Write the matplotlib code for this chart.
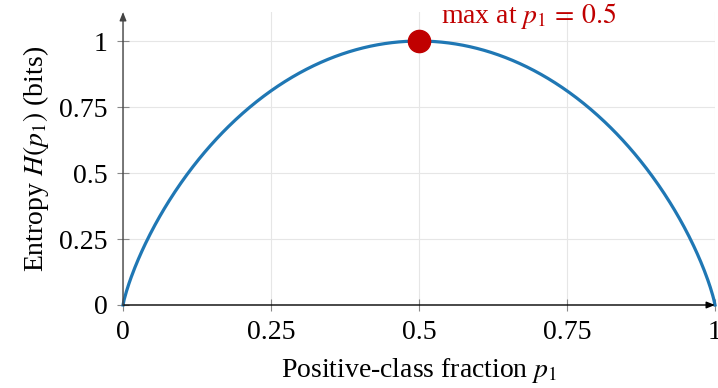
import matplotlib.pyplot as plt
import numpy as np

plt.rcParams['font.family'] = ['Liberation Serif', 'DejaVu Serif']
plt.rcParams['mathtext.fontset'] = 'stix'

# Entropie binaire en fonction de la fraction p1
p1 = np.linspace(0, 1, 501)
inner = p1[1:-1]
entropy = np.zeros_like(p1)
entropy[1:-1] = -inner * np.log2(inner) - (1 - inner) * np.log2(1 - inner)

p_max = 0.5
h_max = 1.0

x_ticks = [0, 0.25, 0.5, 0.75, 1]
x_tick_labels = ['0', '0.25', '0.5', '0.75', '1']
y_ticks = [0, 0.25, 0.5, 0.75, 1]
y_tick_labels = ['0', '0.25', '0.5', '0.75', '1']

fig = plt.figure(figsize=(7.18, 3.88), dpi=100)
ax = fig.add_axes([123 / 718, 83 / 388, 592 / 718, 293 / 388])

ax.plot(p1, entropy, color='#1f77b4', linewidth=2.3, zorder=3, clip_on=False)
ax.plot(p_max, h_max, 'o', color='#c00000', markersize=16, zorder=4, clip_on=False)
ax.text(0.538, 1.068, r'max at $p_1\,=\,0.5$', color='#c00000', fontsize=20,
        ha='left', va='baseline', clip_on=False)

ax.set_xlim(0, 1)
ax.set_ylim(0, 1.11)
ax.set_xticks(x_ticks, x_tick_labels)
ax.set_yticks(y_ticks, y_tick_labels)
ax.tick_params(direction='inout', length=8, width=0.8, color='#888888',
               labelsize=20, pad=7)
ax.grid(True, color='#e6e6e6', linewidth=0.8)
ax.set_axisbelow(True)

for s in ax.spines.values():
    s.set_visible(False)

# Axes avec flèches
ax.annotate('', xy=(1.0, 0), xytext=(0, 0), xycoords='data',
            arrowprops=dict(arrowstyle='-|>,head_length=0.5,head_width=0.2',
                            color='black', lw=1.0, shrinkA=0, shrinkB=0),
            annotation_clip=False)
ax.annotate('', xy=(0, 1.11), xytext=(0, 0), xycoords='data',
            arrowprops=dict(arrowstyle='-|>,head_length=0.5,head_width=0.2',
                            color='#444444', lw=1.0, shrinkA=0, shrinkB=0),
            annotation_clip=False)

ax.set_xlabel(r'Positive-class fraction $p_1$', fontsize=20, labelpad=8)
ax.set_ylabel(r'Entropy $H(p_1)$ (bits)', fontsize=20, labelpad=6)

plt.savefig('out.png', dpi=100)
